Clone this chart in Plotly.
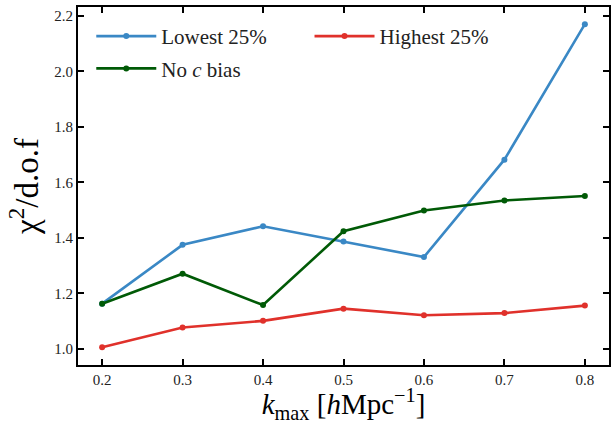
import plotly.graph_objects as go

# k_max values and reduced chi-square for each sample cut
k_max = [0.2, 0.3, 0.4, 0.5, 0.6, 0.7, 0.8]
lowest_25 = [1.163, 1.375, 1.442, 1.387, 1.331, 1.682, 2.170]
highest_25 = [1.006, 1.077, 1.101, 1.145, 1.121, 1.129, 1.156]
no_c_bias = [1.163, 1.271, 1.158, 1.424, 1.499, 1.535, 1.551]

y_ticks = [1.0, 1.2, 1.4, 1.6, 1.8, 2.0, 2.2]

SERIF = "Liberation Serif, DejaVu Serif, serif"

# (label, values, colour, legend box)
series = [
    ("Lowest 25%", lowest_25, "#3a88c5", "legend"),
    ("Highest 25%", highest_25, "#e0312b", "legend2"),
    ("No <i>c</i> bias", no_c_bias, "#005a06", "legend"),
]

fig = go.Figure()
for i, (name, vals, color, leg) in enumerate(series):
    fig.add_trace(go.Scatter(
        x=k_max, y=vals, name=name, mode="lines+markers",
        line=dict(color=color, width=2.6),
        marker=dict(color=color, size=6),
        legend=leg, legendgroup=f"g{i}",
    ))

axis_common = dict(
    showline=True, linewidth=2, linecolor="black", mirror="ticks",
    ticks="inside", ticklen=6, tickwidth=1.6, tickcolor="black",
    showgrid=False, zeroline=False,
    tickfont=dict(family=SERIF, size=15, color="#222"),
)

legend_common = dict(
    orientation="v", yanchor="top", xanchor="left",
    font=dict(family=SERIF, size=21, color="#222"),
    bgcolor="rgba(0,0,0,0)", itemwidth=60, tracegroupgap=2,
)

fig.update_layout(
    width=613, height=424,
    margin=dict(l=78, r=2, t=7, b=59),
    paper_bgcolor="white", plot_bgcolor="white",
    font=dict(family=SERIF, color="black"),
    xaxis=dict(
        range=[0.17, 0.83], tickvals=k_max,
        ticktext=[f"{v:.1f}" for v in k_max],
        title=dict(text="<i>k</i><sub>max</sub> [<i>h</i>Mpc<sup>−1</sup>]",
                   font=dict(family=SERIF, size=29), standoff=9),
        **axis_common,
    ),
    yaxis=dict(
        range=[0.942, 2.232], tickvals=y_ticks,
        ticktext=[f"{v:.1f}" for v in y_ticks],
        title=dict(text="χ<sup>2</sup>/d.o.f",
                   font=dict(family=SERIF, size=33), standoff=6),
        **axis_common,
    ),
    legend=dict(x=0.025, y=0.975, **legend_common),
    legend2=dict(x=0.436, y=0.975, **legend_common),
    showlegend=True,
)

fig.write_html("out.html")
